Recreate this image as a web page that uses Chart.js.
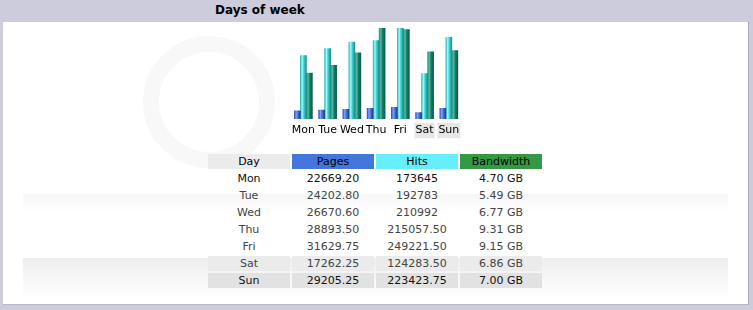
<!DOCTYPE html>
<html>
<head>
<meta charset="utf-8">
<script src="https://cdn.jsdelivr.net/npm/chart.js@4/dist/chart.umd.min.js"></script>
<style>
  html,body{margin:0;padding:0;}
  body{width:753px;height:310px;background:#ccccdd;position:relative;overflow:hidden;font-family:"DejaVu Sans",Verdana,sans-serif;}
  #title{position:absolute;left:215px;top:3px;font-size:12px;font-weight:bold;color:#000;}
  #panel{position:absolute;left:3px;top:22px;width:745px;height:282px;background:#fff;border-right:1px solid #a8a8b0;border-bottom:1px solid #b8b8c0;overflow:hidden;}
  #ring{position:absolute;left:140px;top:14px;width:100px;height:100px;border-radius:50%;border:16px solid #f8f8f8;}
  #band{position:absolute;left:20px;top:236px;width:705px;height:40px;background:linear-gradient(#eeeeee,rgba(255,255,255,0));}
  #band2{position:absolute;left:20px;top:172px;width:705px;height:18px;background:linear-gradient(#f6f6f6,rgba(255,255,255,0));}
  #chartbox{position:absolute;left:287px;top:22px;width:177px;height:118px;}
  table{position:absolute;left:206px;top:152px;border-collapse:separate;border-spacing:2px;font-size:11px;}
  td{width:82px;height:15px;padding:0;text-align:center;line-height:15px;color:#444;}
  tr.h td{color:#000;}
  tr.dk td{color:#111;}
  tr.we td{background:#ebebeb;}
  tr.we2 td{background:#e2e2e2;}
</style>
</head>
<body>
<div id="title">Days of week</div>
<div id="panel">
  <div id="ring"></div>
  <div id="band2"></div>
  <div id="band"></div>
</div>
<div id="chartbox"><canvas id="c" width="177" height="118"></canvas></div>
<table id="tbl"></table>
<script>
const days = ["Mon","Tue","Wed","Thu","Fri","Sat","Sun"];
const pages = [22669.20, 24202.80, 26670.60, 28893.50, 31629.75, 17262.25, 29205.25];
const hits = [173645, 192783, 210992, 215057.50, 249221.50, 124283.50, 223423.75];
const bandwidthGB = [4.70, 5.49, 6.77, 9.31, 9.15, 6.86, 7.00];
const pagesText = ["22669.20","24202.80","26670.60","28893.50","31629.75","17262.25","29205.25"];
const hitsText = ["173645","192783","210992","215057.50","249221.50","124283.50","223423.75"];
const headers = ["Day","Pages","Hits","Bandwidth"];

// table
const tbl = document.getElementById('tbl');
const hdrBg = ["#ebebeb","#4477dd","#66eeff","#339944"];
let tr = document.createElement('tr'); tr.className='h';
headers.forEach((h,i)=>{const td=document.createElement('td');td.textContent=h;td.style.background=hdrBg[i];tr.appendChild(td);});
tbl.appendChild(tr);
days.forEach((d,i)=>{
  const r=document.createElement('tr');
  if(i===0) r.className='dk';
  if(i===5) r.className='we';
  if(i===6) r.className='we2 dk';
  [d,pagesText[i],hitsText[i],bandwidthGB[i].toFixed(2)+" GB"].forEach(v=>{const td=document.createElement('td');td.textContent=v;r.appendChild(td);});
  tbl.appendChild(r);
});

const BW = 6;
function grad(stops){
  return (ctx)=>{
    const ch = ctx.chart, xs = ch.scales && ch.scales.x;
    if(!xs || ctx.dataIndex===undefined) return stops[2][1];
    const center = xs.getPixelForValue(ctx.dataIndex) + (ctx.datasetIndex-1)*BW;
    if(!isFinite(center)) return stops[2][1];
    const g = ch.ctx.createLinearGradient(center-BW/2,0,center+BW/2,0);
    stops.forEach(s=>g.addColorStop(s[0],s[1]));
    return g;
  };
}
const blueG = [[0,"#2f50b8"],[0.3,"#7fa4f5"],[0.55,"#4a78e0"],[1,"#1e3a99"]];
const cyanG = [[0,"#2ab8b8"],[0.3,"#9ffcfc"],[0.55,"#44d4d4"],[1,"#168c8c"]];
const tealG = [[0,"#2a9a7c"],[0.3,"#55b7a0"],[0.55,"#1a806a"],[1,"#0b5a48"]];

new Chart(document.getElementById('c'), {
  type:'bar',
  data:{
    labels: days,
    datasets:[
      {label:'Pages', data:pages, yAxisID:'y', backgroundColor:grad(blueG), barThickness:BW},
      {label:'Hits', data:hits, yAxisID:'y', backgroundColor:grad(cyanG), barThickness:BW},
      {label:'Bandwidth', data:bandwidthGB, yAxisID:'y2', backgroundColor:grad(tealG), barThickness:BW}
    ]
  },
  options:{
    responsive:false, animation:false, devicePixelRatio:1,
    layout:{padding:{top:6,left:0,right:0,bottom:0}},
    plugins:{legend:{display:false},tooltip:{enabled:false}},
    scales:{
      x:{
        grid:{display:false,drawTicks:false}, border:{display:false},
        afterFit:(s)=>{s.height=21;},
        ticks:{
          padding:5, color:'#000', font:{family:'DejaVu Sans',size:11},
          maxRotation:0, autoSkip:false,
          showLabelBackdrop:(c)=>c.index>=5,
          backdropColor:'#e6e6e6',
          backdropPadding:{left:1,right:1,top:1,bottom:1}
        }
      },
      y:{display:false,min:0,max:249221.5},
      y2:{display:false,min:0,max:9.31}
    }
  }
});
</script>
</body>
</html>
